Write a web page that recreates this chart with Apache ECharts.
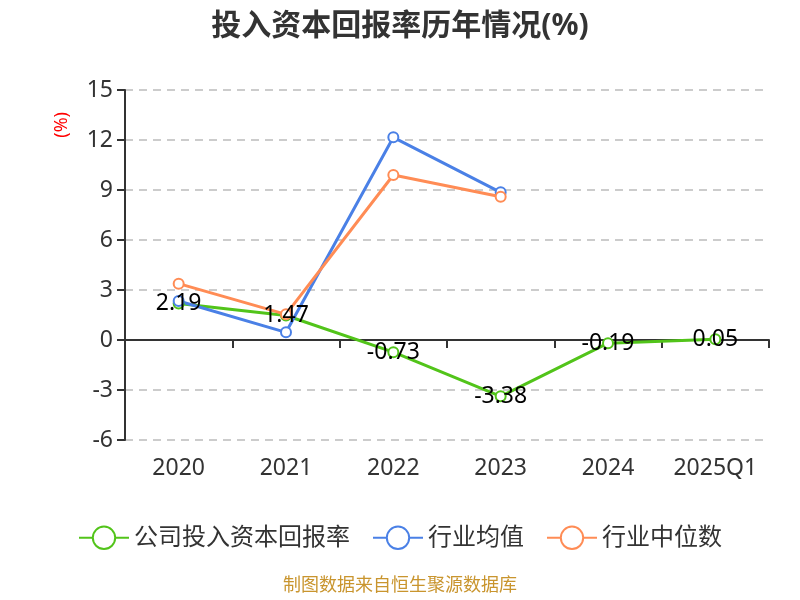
<!DOCTYPE html>
<html>
<head>
<meta charset="utf-8">
<script src="https://cdn.jsdelivr.net/npm/echarts@6/dist/echarts.min.js"></script>
<style>
  html, body { margin: 0; padding: 0; background: #fff; }
  #main { width: 800px; height: 600px; }
</style>
</head>
<body>
<div id="main"></div>
<script>
// 数据
var years = ['2020', '2021', '2022', '2023', '2024', '2025Q1']
var companyRate = [2.19, 1.47, -0.73, -3.38, -0.19, 0.05]
var industryAvg = [2.34, 0.46, 12.16, 8.86, null, null]
var industryMedian = [3.38, 1.54, 9.9, 8.6, null, null]

var font = '"Noto Sans", "Noto Sans CJK SC", sans-serif'

var echart = echarts.init(document.getElementById('main'))

function lineSeries(name, data, color, withLabel) {
    return {
        name: name,
        type: 'line',
        data: data,
        xAxisIndex: 0,
        symbol: 'emptyCircle',
        symbolSize: 10,
        connectNulls: false,
        lineStyle: { width: 3, color: color },
        itemStyle: { color: color, borderWidth: 2 },
        label: {
            show: withLabel,
            position: 'inside',
            color: '#000',
            fontSize: 23,
            fontFamily: font
        }
    }
}

let option = {
    backgroundColor: '#fff',
    title: {
        text: '投入资本回报率历年情况(%)',
        left: 'center',
        top: 6,
        textStyle: { fontSize: 30, fontWeight: 'bold', color: '#333', fontFamily: font }
    },
    legend: {
        bottom: 45,
        left: 'center',
        itemWidth: 50,
        itemHeight: 28,
        itemGap: 22,
        textStyle: { fontSize: 24, color: '#333', fontFamily: font },
        data: ['公司投入资本回报率', '行业均值', '行业中位数']
    },
    grid: { left: 125, right: 31, top: 90, bottom: 160 },
    xAxis: [{
        type: 'category',
        data: years,
        axisLine: { onZero: true, lineStyle: { color: '#333', width: 2 } },
        axisTick: { show: true, length: 8, lineStyle: { color: '#333', width: 2 } },
        axisLabel: { show: false }
    }, {
        type: 'category',
        data: years,
        position: 'bottom',
        axisLine: { show: false, onZero: false },
        axisTick: { show: false },
        axisLabel: { interval: 0, fontSize: 23, color: '#333', margin: 17, fontFamily: font }
    }],
    yAxis: {
        type: 'value',
        min: -6,
        max: 15,
        interval: 3,
        axisLine: { show: true, lineStyle: { color: '#333', width: 2 } },
        axisTick: { show: true, length: 8, lineStyle: { color: '#333', width: 2 } },
        axisLabel: { fontSize: 23, color: '#333', margin: 12, fontFamily: font },
        splitLine: { lineStyle: { type: [8, 6], color: '#ccc', width: 2 } }
    },
    graphic: [{
        type: 'text',
        left: 53,
        top: 112,
        rotation: Math.PI / 2,
        style: { text: '(%)', fill: '#f00', fontSize: 18, fontFamily: font }
    }, {
        type: 'text',
        left: 'center',
        top: 577,
        style: { text: '制图数据来自恒生聚源数据库', fill: '#c9952e', fontSize: 18, fontFamily: font }
    }],
    series: [
        lineSeries('公司投入资本回报率', companyRate, '#52c41a', true),
        lineSeries('行业均值', industryAvg, '#4a80e6', false),
        lineSeries('行业中位数', industryMedian, '#ff8c55', false)
    ]
}
echart.setOption(option)
</script>
</body>
</html>
